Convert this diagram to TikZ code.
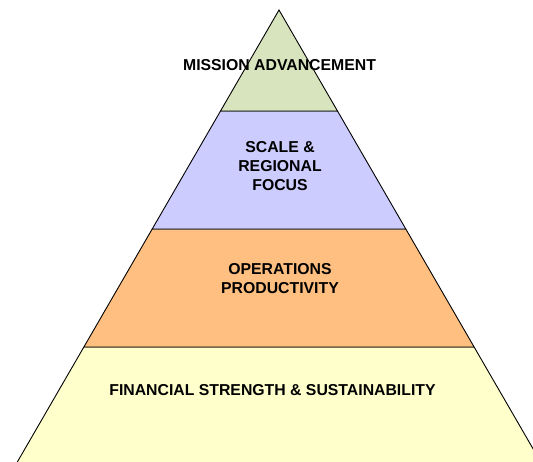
\documentclass[tikz,border=0pt]{standalone}
\usepackage{fontspec}
\setmainfont{Liberation Sans}
\begin{document}
\begin{tikzpicture}[x=1pt,y=-1pt,
  tier/.style={draw=black, line width=0.9pt, line join=miter},
  lbl/.style={font=\bfseries\fontsize{15.8}{19}\selectfont, align=center, inner sep=0pt, text=black}]
\useasboundingbox (0,0) rectangle (533,461);
\clip (0,0) rectangle (533,461);
\def\k{0.579}
% apex and level coordinates
\coordinate (apex) at (279,10);
\coordinate (l1) at ({279-\k*101},111);  \coordinate (r1) at ({279+\k*101},111);
\coordinate (l2) at ({279-\k*219},229);  \coordinate (r2) at ({279+\k*219},229);
\coordinate (l3) at ({279-\k*337},347);  \coordinate (r3) at ({279+\k*337},347);
\coordinate (l4) at ({279-\k*470},480);  \coordinate (r4) at ({279+\k*470},480);
\definecolor{cgreen}{RGB}{215,228,189}
\definecolor{cblue}{RGB}{204,204,255}
\definecolor{corange}{RGB}{255,191,128}
\definecolor{cyellow}{RGB}{255,255,204}
\filldraw[tier, fill=cyellow] (l3) -- (r3) -- (r4) -- (l4) -- cycle;
\filldraw[tier, fill=corange] (l2) -- (r2) -- (r3) -- (l3) -- cycle;
\filldraw[tier, fill=cblue] (l1) -- (r1) -- (r2) -- (l2) -- cycle;
\filldraw[tier, fill=cgreen] (apex) -- (r1) -- (l1) -- cycle;
\node[lbl] (t1) at (279.5,65.5) {MISSION ADVANCEMENT};
\node[lbl] (t2) at (280,166) {SCALE \&\\REGIONAL\\FOCUS};
\node[lbl] (t3) at (280,278.5) {OPERATIONS\\PRODUCTIVITY};
\node[lbl] (t4) at (272.5,390.5) {FINANCIAL STRENGTH \& SUSTAINABILITY};
\end{tikzpicture}
\end{document}
